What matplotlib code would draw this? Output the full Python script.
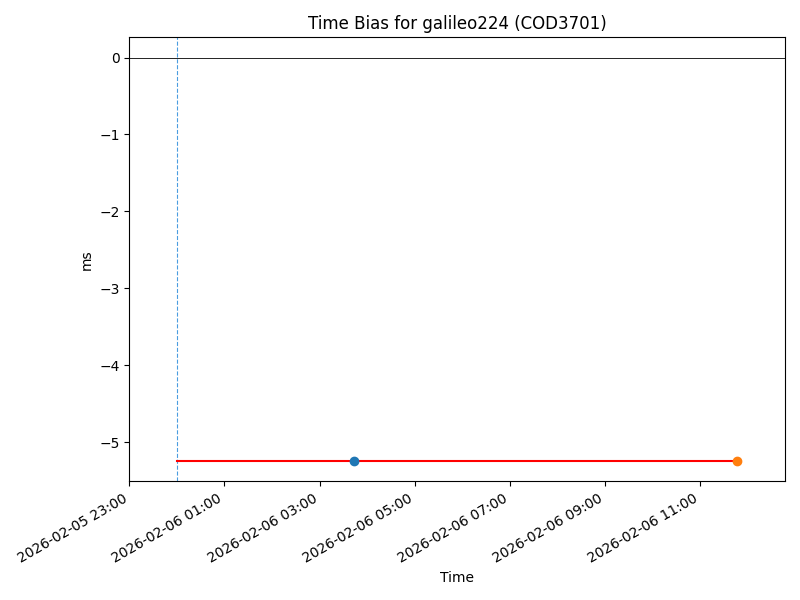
import numpy as np
import matplotlib
matplotlib.use("Agg")
import matplotlib.pyplot as plt
import matplotlib.dates as mdates
from datetime import datetime, timedelta

sat = "galileo224"
solution = "COD3701"

start_time = datetime(2026, 2, 6, 0, 0)
point_times = [datetime(2026, 2, 6, 3, 44), datetime(2026, 2, 6, 11, 47)]
point_bias = [-5.25, -5.25]
line_times = [start_time, point_times[-1]]
line_bias = [-5.25, -5.25]

fig, ax = plt.subplots(figsize=(8, 6), dpi=100)

ax.axhline(0, color="black", linewidth=0.6)
ax.axvline(start_time, color="#4a9de0", linestyle="--", linewidth=0.8)
ax.plot(line_times, line_bias, color="red", linewidth=1.5)
for t, b in zip(point_times, point_bias):
    ax.plot([t], [b], "o")

ax.set_xlim(start_time - timedelta(hours=1), point_times[-1] + timedelta(hours=1))
ax.xaxis.set_major_formatter(mdates.DateFormatter("%Y-%m-%d %H:%M"))
# first tick sits on the left edge at 23:00
ticks = [start_time - timedelta(hours=1) + timedelta(hours=2 * i) for i in range(7)]
ax.set_xticks(ticks)

ax.set_title("Time Bias for %s (%s)" % (sat, solution))
ax.set_xlabel("Time")
ax.set_ylabel("ms")
fig.autofmt_xdate()
plt.tight_layout()
plt.savefig("out.png")
